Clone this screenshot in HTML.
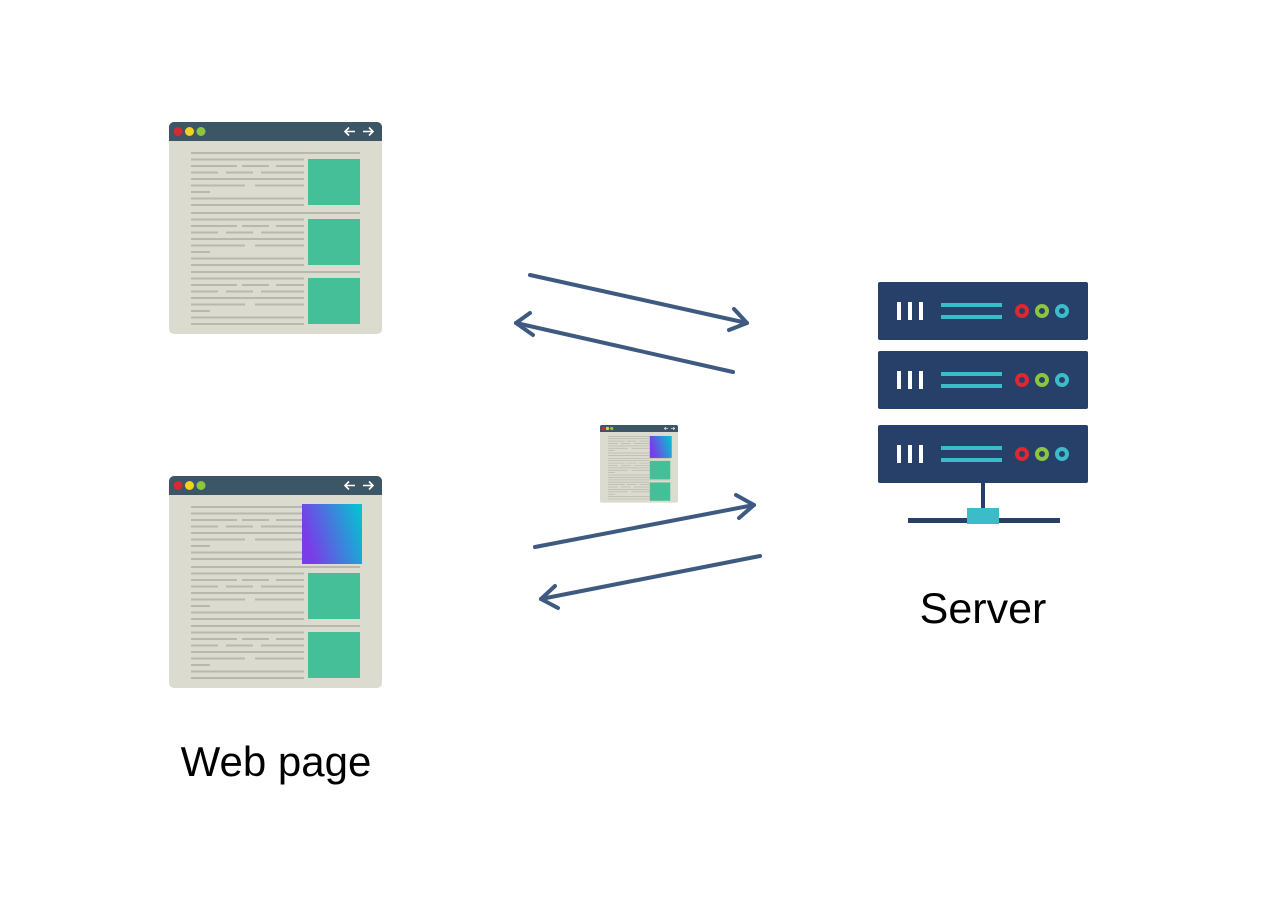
<!DOCTYPE html>
<html><head><meta charset="utf-8"><style>
html,body{margin:0;padding:0;background:#fff;width:1280px;height:908px;overflow:hidden}
</style></head><body>
<svg width="1280" height="908" viewBox="0 0 1280 908" xmlns="http://www.w3.org/2000/svg">
<defs>
<linearGradient id="g" x1="0" y1="0.3" x2="1" y2="0">
<stop offset="0" stop-color="#7a3ce8"/><stop offset="1" stop-color="#00c8d0"/>
</linearGradient>
<g id="sec" stroke="#b9b8ae" stroke-width="2">
<line x1="22" y1="31" x2="191" y2="31"/>
<line x1="22" y1="37.5" x2="135" y2="37.5"/>
<line x1="22" y1="44" x2="135" y2="44" stroke-dasharray="46 5 27 7 30 200"/>
<line x1="22" y1="50.5" x2="135" y2="50.5" stroke-dasharray="27 8 27 8 45 200"/>
<line x1="22" y1="57" x2="135" y2="57"/>
<line x1="22" y1="63.5" x2="135" y2="63.5" stroke-dasharray="54 10 49 200"/>
<line x1="22" y1="70" x2="41" y2="70"/>
<line x1="22" y1="76.5" x2="135" y2="76.5"/>
<line x1="22" y1="83" x2="135" y2="83"/>
</g>
<g id="br">
<rect x="0" y="0" width="213" height="212" rx="5" fill="#dbdbcf"/>
<path d="M5 0H208a5 5 0 0 1 5 5V19H0V5a5 5 0 0 1 5-5z" fill="#3d5666"/>
<circle cx="9" cy="9.5" r="4.5" fill="#d42a33"/>
<circle cx="20.5" cy="9.5" r="4.5" fill="#f2d21a"/>
<circle cx="32" cy="9.5" r="4.5" fill="#8cc63f"/>
<g stroke="#fff" stroke-width="1.6" fill="none">
<path d="M186 9.5h-10M180 5.5l-4 4 4 4"/><path d="M194 9.5h10M200 5.5l4 4-4 4"/>
</g>
<use href="#sec"/>
<use href="#sec" y="60"/>
<use href="#sec" y="119"/>
</g>
<g id="srv">
<rect x="0" y="0" width="210" height="58" rx="2" fill="#27406a"/>
<g fill="#fff"><rect x="19" y="20" width="4" height="18"/><rect x="30" y="20" width="4" height="18"/><rect x="41" y="20" width="4" height="18"/></g>
<rect x="63" y="21" width="61" height="4" fill="#3bbcc8"/>
<rect x="63" y="33" width="61" height="4" fill="#3bbcc8"/>
<circle cx="144" cy="29" r="5" fill="none" stroke="#e0262f" stroke-width="4"/>
<circle cx="164" cy="29" r="5" fill="none" stroke="#8cc63f" stroke-width="4"/>
<circle cx="184" cy="29" r="5" fill="none" stroke="#3bbcc8" stroke-width="4"/>
</g>
</defs>

<use href="#br" x="169" y="122"/>
<g fill="#45bf98"><rect x="308" y="159" width="52" height="46"/><rect x="308" y="219" width="52" height="46"/><rect x="308" y="278" width="52" height="46"/></g>

<use href="#br" x="169" y="476"/>
<rect x="302" y="504" width="60" height="60" fill="url(#g)"/>
<g fill="#45bf98"><rect x="308" y="573" width="52" height="46"/><rect x="308" y="632" width="52" height="46"/></g>

<g transform="translate(600,425) scale(0.366)">
<use href="#br"/>
<rect x="136" y="30" width="60" height="60" fill="url(#g)"/>
<g fill="#45bf98"><rect x="136" y="98" width="56" height="50"/><rect x="136" y="157" width="56" height="50"/></g>
</g>

<use href="#srv" x="878" y="282"/>
<use href="#srv" x="878" y="351"/>
<use href="#srv" x="878" y="425"/>
<rect x="981" y="483" width="4" height="26" fill="#27406a"/>
<rect x="908" y="518" width="152" height="5" fill="#27406a"/>
<rect x="967" y="508" width="32" height="16" fill="#3bbcc8"/>

<g stroke="#3f5a80" stroke-width="4" fill="none" stroke-linecap="round" stroke-linejoin="round">
<line x1="530" y1="275" x2="747" y2="323"/><path d="M734 309L747 323L729 330"/>
<line x1="733" y1="372" x2="516" y2="323"/><path d="M530 313L516 323L533 335"/>
<line x1="535" y1="547" x2="754" y2="505"/><path d="M736 495L754 505L739 518"/>
<line x1="760" y1="556" x2="541" y2="599"/><path d="M555 586L541 599L558 608"/>
</g>

<text x="983" y="623" font-family="'Liberation Sans',sans-serif" font-size="43" text-anchor="middle" fill="#000">Server</text>
<text x="276" y="776" font-family="'Liberation Sans',sans-serif" font-size="42" text-anchor="middle" fill="#000">Web page</text>
</svg>
</body></html>
